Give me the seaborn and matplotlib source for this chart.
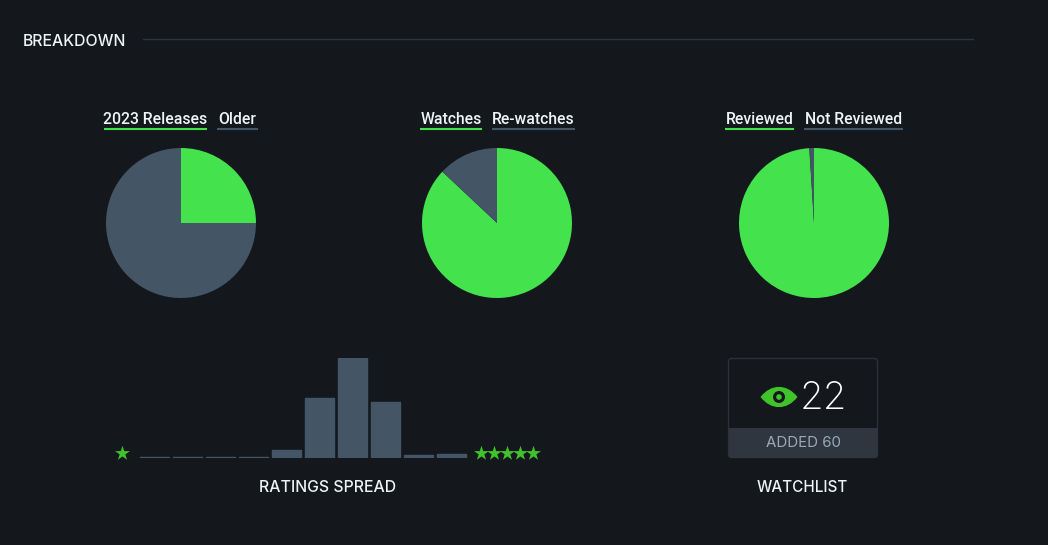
import matplotlib
matplotlib.use("Agg")
import matplotlib.pyplot as plt
import seaborn as sns
import pandas as pd
from matplotlib.patches import FancyBboxPatch, PathPatch, Circle, Rectangle
from matplotlib.path import Path

BG = "#14181c"
GREEN = "#44e24d"
SLATE = "#456"
STAR = "#40c32a"
LIGHT = "#eef3f8"
BAND = "#30363f"

W, H = 1048, 545

releases_labels = ["2023 Releases", "Older"]
releases_values = [25, 75]
watches_labels = ["Watches", "Re-watches"]
watches_values = [87, 13]
reviewed_labels = ["Reviewed", "Not Reviewed"]
reviewed_values = [99, 1]

rating_bins = ["0.5", "1", "1.5", "2", "2.5", "3", "3.5", "4", "4.5", "5"]
rating_counts = [1, 1, 1, 1, 8, 60, 100, 56, 3, 4]

watchlist_count = "22"
watchlist_added = "ADDED 60"

sns.set_theme(style="white", rc={"figure.facecolor": BG, "axes.facecolor": BG})
plt.rcParams["font.family"] = ["Inter", "DejaVu Sans"]


def box(x, y, w, h):
    return [x / W, 1 - (y + h) / H, w / W, h / H]


fig = plt.figure(figsize=(W / 100, H / 100), dpi=100, facecolor=BG)

# overlay in pixel coords for the page furniture
page = fig.add_axes([0, 0, 1, 1])
page.set_xlim(0, W)
page.set_ylim(H, 0)
page.axis("off")

page.text(23, 42, "BREAKDOWN", color=LIGHT, fontsize=11.4, va="center", ha="left", fontweight="medium")
page.plot([143, 973], [39, 39], color="#2c3440", lw=1)


def pie(cx, values):
    ax = fig.add_axes(box(cx - 75, 148, 150, 150))
    ax.pie(values, colors=[GREEN, SLATE], startangle=90, counterclock=False,
           wedgeprops={"linewidth": 0})
    ax.set_xlim(-1, 1)
    ax.set_ylim(-1, 1)
    ax.axis("off")


def legend(labels, x0, x1, x2, x3):
    for text, a, b in [(labels[0], x0, x1), (labels[1], x2, x3)]:
        page.text((a + b) / 2, 120, text, color=LIGHT, fontsize=11.3, ha="center", va="center",
                  family="Roboto", fontweight="medium")
    page.plot([x0, x1], [128.5, 128.5], color=GREEN, lw=1.5, solid_capstyle="butt")
    page.plot([x2, x3], [128.5, 128.5], color=SLATE, lw=1.5, solid_capstyle="butt")


pie(181, releases_values)
legend(releases_labels, 104, 207, 217, 258)
pie(497, watches_values)
legend(watches_labels, 420, 482, 492, 575)
pie(814, reviewed_values)
legend(reviewed_labels, 725, 794, 804, 903)

# ratings histogram
bars = fig.add_axes(box(138, 358, 330, 100))
df = pd.DataFrame({"rating": rating_bins, "count": rating_counts})
sns.barplot(data=df, x="rating", y="count", color=SLATE, saturation=1, width=0.9, ax=bars)
for p in bars.patches:
    p.set_edgecolor(SLATE)
    p.set_linewidth(1)
    p.set_joinstyle("round")
bars.set_ylim(0, 100)
bars.set_xlim(-0.5, 9.5)
bars.axis("off")

page.scatter([122], [452.5], marker="*", s=125, color=STAR, linewidths=0)
page.scatter([480.5, 493.5, 506.5, 520, 533], [452.5] * 5, marker="*", s=125, color=STAR, linewidths=0)
page.text(327.5, 488, "RATINGS SPREAD", color=LIGHT, fontsize=11.4, ha="center", va="center",
          fontweight="medium")

# watchlist card
page.add_patch(FancyBboxPatch((728.5, 358.5), 149, 99, boxstyle="round,pad=0,rounding_size=3",
                              fc=BG, ec="#2c3038", lw=1))
band = FancyBboxPatch((728.5, 428), 149, 30, boxstyle="round,pad=0,rounding_size=3",
                      fc=BAND, ec="none")
page.add_patch(band)
page.add_patch(Rectangle((728.5, 428), 149, 6, fc=BAND, ec="none"))
page.text(803, 443, watchlist_added, color="#9ab", fontsize=10.8, ha="center", va="center")
page.text(823.5, 399, watchlist_count, color="white", fontsize=27.5, ha="center", va="center",
          fontweight="light")

# eye icon
cx, cy = 779, 397
eye = Path([(cx - 18.5, cy), (cx - 8, cy - 13.5), (cx + 8, cy - 13.5), (cx + 18.5, cy),
            (cx + 8, cy + 13.5), (cx - 8, cy + 13.5), (cx - 18.5, cy)],
           [Path.MOVETO, Path.CURVE4, Path.CURVE4, Path.CURVE4, Path.CURVE4, Path.CURVE4, Path.CURVE4])
page.add_patch(PathPatch(eye, fc=STAR, ec="none"))
page.add_patch(Circle((cx, cy), 6, fc=BG, ec="none"))
page.add_patch(Circle((cx, cy), 2.8, fc=STAR, ec="none"))
page.text(802.5, 488, "WATCHLIST", color=LIGHT, fontsize=11, ha="center", va="center",
          fontweight="medium")

fig.savefig("out.png", dpi=100, facecolor=BG)
